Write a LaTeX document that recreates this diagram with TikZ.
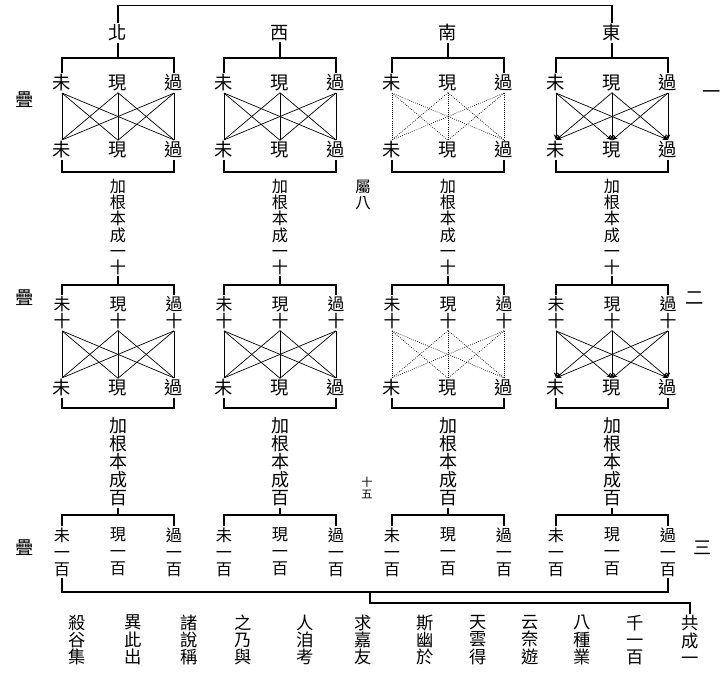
\documentclass[tikz,border=0pt]{standalone}
\usepackage{fontspec}
\newfontfamily\cjk{Noto Sans CJK TC}
\usetikzlibrary{arrows.meta}

\begin{document}
\begin{tikzpicture}[
    x=0.025cm, y=-0.025cm,
    glyph/.style={font=\cjk\fontsize{13}{13}\selectfont, inner sep=1pt},
    stack/.style={align=center, inner sep=1pt, font=\cjk\fontsize{#1}{#1}\selectfont},
    stack/.default=12,
    hundreds/.style={align=center, inner sep=1pt, font=\cjk\fontsize{11.5}{12}\selectfont},
    frame/.style={line width=0.9pt},
    plainlink/.style={line width=0.5pt},
    faintlink/.style={line width=0.5pt, densely dotted},
    arrowlink/.style={line width=0.5pt, -{Stealth[length=4pt,width=3pt]}}
]
    \path[use as bounding box] (0,0) rectangle (724,679);

    % four directions, three folds each
    \foreach \c/\x/\d/\s in {a/118/北/plainlink, b/280/西/plainlink, c/448/南/faintlink, d/612/東/arrowlink}{
        \node[glyph] (dir\c) at (\x,33) {\d};
        \node[glyph] (u\c1) at (\x-56,83) {未};
        \node[glyph] (u\c2) at (\x,83) {現};
        \node[glyph] (u\c3) at (\x+56,83) {過};
        \node[glyph] (l\c1) at (\x-56,150) {未};
        \node[glyph] (l\c2) at (\x,150) {現};
        \node[glyph] (l\c3) at (\x+56,150) {過};
        \node[stack=11.5] (k\c) at (\x,227) {加\\根\\本\\成\\一\\十};
        \node[stack] (m\c1) at (\x-56,313) {未\\十};
        \node[stack] (m\c2) at (\x,313) {現\\十};
        \node[stack] (m\c3) at (\x+56,313) {過\\十};
        \node[glyph] (n\c1) at (\x-56,388) {未};
        \node[glyph] (n\c2) at (\x,388) {現};
        \node[glyph] (n\c3) at (\x+56,388) {過};
        \node[stack=12.8] (h\c) at (\x,462) {加\\根\\本\\成\\百};
        \node[hundreds] (p\c1) at (\x-56,552) {未\\一\\百};
        \node[hundreds] (p\c2) at (\x,552) {現\\一\\百};
        \node[hundreds] (p\c3) at (\x+56,552) {過\\一\\百};

        \draw[frame] (dir\c) -- (\x,58);
        \draw[frame] (u\c1.north) |- (\x,58) -| (u\c3.north);
        \draw[frame] (l\c1.south) |- (\x,172) -| (l\c3.south);
        \draw[frame] (k\c) -- (\x,285);
        \draw[frame] (m\c1.north) |- (\x,285) -| (m\c3.north);
        \draw[frame] (n\c1.south) |- (\x,408) -| (n\c3.south);
        \draw[frame] (h\c) -- (\x,515);
        \draw[frame] (p\c1.north) |- (\x,515) -| (p\c3.north);

        \foreach \i in {1,2,3}{
            \foreach \j in {1,2,3}{
                \draw[\s] (u\c\i.south) -- (l\c\j.north);
                \draw[\s] (m\c\i.south) -- (n\c\j.north);
            }
        }
    }

    \draw[frame] (dira.north) -- ++(0,-18) -| (dird.north);

    % side marks
    \node[glyph] (fold1) at (25,100) {疊};
    \node[glyph] (fold2) at (25,298) {疊};
    \node[glyph] (fold3) at (25,548) {疊};
    \node[glyph] (num1) at (712,95) {一};
    \node[glyph] (num2) at (695,298) {二};
    \node[glyph] (num3) at (703,548) {三};
    \node[stack=11] (note8) at (363,195) {屬\\八};
    \node[stack=8] (note15) at (367,488) {十\\五};

    % closing lines
    \foreach \n/\x/\t in {1/690/{共\\成\\一}, 2/635/{千\\一\\百}, 3/582/{八\\種\\業}, 4/530/{云\\奈\\遊},
                          5/478/{天\\雲\\得}, 6/425/{斯\\幽\\於}, 7/363/{求\\嘉\\友}, 8/305/{人\\洎\\考},
                          9/243/{之\\乃\\與}, 10/189/{諸\\說\\稱}, 11/133/{異\\此\\出}, 12/77/{殺\\谷\\集}}{
        \node[stack=12.3] (z\n) at (\x,640) {\t};
    }
    \coordinate (split) at (370,592);
    \draw[frame] (pa1.south) -- (pa1.south |- split) -- (pd3.south |- split) -- (pd3.south);
    \draw[frame] (split) -- ++(0,11) -| (z1.north);
\end{tikzpicture}
\end{document}
